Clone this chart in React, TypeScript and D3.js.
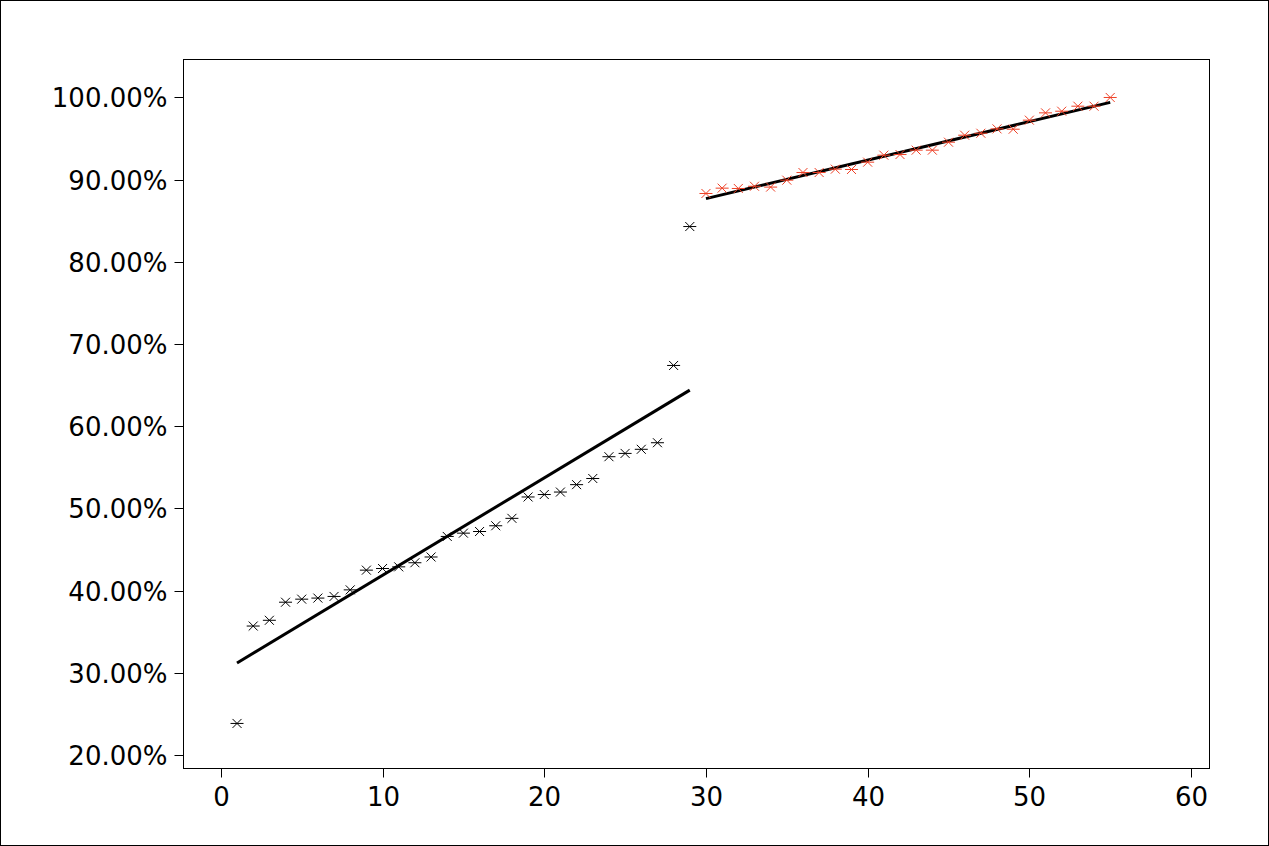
import React from 'react';
import * as d3 from 'd3';

const lowX = d3.range(1, 30);
const lowValues = [
  23.85, 35.7, 36.4, 38.6, 38.97, 39.1, 39.3, 40.1, 42.5, 42.7,
  42.9, 43.4, 44.1, 46.6, 47.0, 47.2, 47.9, 48.8, 51.4, 51.7,
  52.0, 52.9, 53.65, 56.3, 56.7, 57.2, 58.0, 67.4, 84.3,
];
const highX = d3.range(30, 56);
const highValues = [
  88.32, 88.97, 88.93, 89.2, 89.1, 89.94, 90.87, 90.87, 91.28, 91.24,
  92.13, 92.98, 93.06, 93.59, 93.59, 94.56, 95.41, 95.65, 96.18, 96.14,
  97.24, 98.13, 98.33, 98.94, 98.94, 100.0,
];
const lowFit = [{ x: 1, y: 31.2 }, { x: 29, y: 64.4 }];
const highFit = [{ x: 30, y: 87.7 }, { x: 55, y: 99.4 }];
const xTicks = [0, 10, 20, 30, 40, 50, 60];
const yTicks = [20, 30, 40, 50, 60, 70, 80, 90, 100];

const W = 1269;
const H = 846;
const frame = { left: 183.5, right: 1209.5, top: 59.5, bottom: 768.5 };
const font = '"DejaVu Sans", Verdana, sans-serif';

// star marker: horizontal bar plus an X
const star = 'M-6.5,0H6.5M-4.5,-4.5L4.5,4.5M-4.5,4.5L4.5,-4.5';

export default function App() {
  const x = d3.scaleLinear().domain([-2.31, 61.14]).range([frame.left, frame.right]);
  const y = d3.scaleLinear().domain([18.37, 104.62]).range([frame.bottom, frame.top]);

  const line = d3.line<{ x: number; y: number }>()
    .x(d => x(d.x))
    .y(d => y(d.y));

  const pct = d3.format('.2f');

  return (
    <svg
      width={W}
      height={H}
      style={{ position: 'absolute', left: 0, top: 0, background: '#fff' }}
      fontFamily={font}
    >
      <rect x={0.5} y={0.5} width={W - 1} height={H - 1} fill="#fff" stroke="#000" strokeWidth={1} />
      <rect
        x={frame.left}
        y={frame.top}
        width={frame.right - frame.left}
        height={frame.bottom - frame.top}
        fill="none"
        stroke="#000"
        strokeWidth={1}
      />

      {/* y axis */}
      {yTicks.map(t => (
        <g key={t} transform={`translate(0,${Math.round(y(t)) + 0.5})`}>
          <line x1={frame.left - 9} x2={frame.left} stroke="#000" />
          <text x={frame.left - 16} dy="0.36em" textAnchor="end" fontSize={26} fill="#000">
            {pct(t)}%
          </text>
        </g>
      ))}

      {/* x axis */}
      {xTicks.map(t => (
        <g key={t} transform={`translate(${Math.round(x(t)) + 0.5},0)`}>
          <line y1={frame.bottom} y2={frame.bottom + 9} stroke="#000" />
          <text y={806} textAnchor="middle" fontSize={26} fill="#000">
            {t}
          </text>
        </g>
      ))}

      {/* fitted lines */}
      <path d={line(lowFit) ?? ''} fill="none" stroke="#000" strokeWidth={3} />
      <path d={line(highFit) ?? ''} fill="none" stroke="#000" strokeWidth={3} />

      {/* points */}
      {lowX.map((v, i) => (
        <path
          key={`l${v}`}
          d={star}
          transform={`translate(${x(v)},${y(lowValues[i])})`}
          fill="none"
          stroke="#000"
          strokeWidth={1}
        />
      ))}
      {highX.map((v, i) => (
        <path
          key={`h${v}`}
          d={star}
          transform={`translate(${x(v)},${y(highValues[i])})`}
          fill="none"
          stroke="#ee4026"
          strokeWidth={1}
        />
      ))}
    </svg>
  );
}
